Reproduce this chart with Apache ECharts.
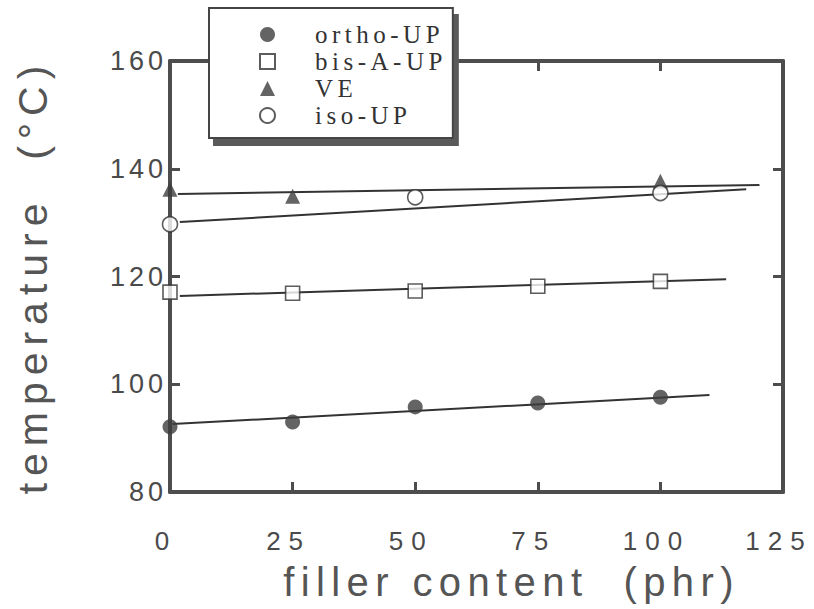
<!DOCTYPE html>
<html>
<head>
<meta charset="utf-8"/>
<style>
  body { margin: 0; background: #fff; }
  #main { width: 814px; height: 609px; }
  /* the scanned figure has wide letter spacing everywhere */
  #main text { letter-spacing: 0.16em; }
  #main text[style*="41px"] { letter-spacing: 0.17em; }
  #main text[style*="27px"] { letter-spacing: 4px; }
  #main text[style*="26px"] { letter-spacing: 8px; }
  #main text[style*="25px"] { letter-spacing: 4.5px; }
</style>
</head>
<body>
<div id="main"></div>
<script src="https://cdn.jsdelivr.net/npm/echarts@6/dist/echarts.min.js"></script>
<script type="text/javascript">
// filler content (phr)
var xTicks = [0, 25, 50, 75, 100, 125];
var yTicks = [80, 100, 120, 140, 160];

// measured points [phr, temperature]
var orthoUP = [[0, 92.1], [25, 93.0], [50, 95.8], [75, 96.5], [100, 97.6]];
var bisAUP  = [[0, 117.1], [25, 116.9], [50, 117.3], [75, 118.2], [100, 119.1]];
var VE      = [[0, 136.2], [25, 134.9], [100, 137.7]];
var isoUP   = [[0, 129.7], [50, 134.7], [100, 135.5]];

// fitted straight lines (start, end)
var orthoFit = [[0.5, 92.6], [110, 98.0]];
var bisFit   = [[2, 116.4], [113.4, 119.5]];
var veFit    = [[1.6, 135.3], [120.2, 137.0]];
var isoFit   = [[2, 130.1], [117.5, 136.2]];

var names = ['ortho-UP', 'bis-A-UP', 'VE', 'iso-UP'];

var frame = '#4d4d4d';
var ink = '#333';

var myChart = echarts.init(document.getElementById('main'), null, {renderer: 'svg'});

function frameAxis(pos) {
  return {
    type: 'value', position: pos,
    min: pos == 'top' ? xTicks[0] : yTicks[0],
    max: pos == 'top' ? xTicks[xTicks.length - 1] : yTicks[yTicks.length - 1],
    interval: pos == 'top' ? 25 : 20,
    axisLine: {show: true, onZero: false, lineStyle: {color: frame, width: 4}},
    axisTick: {show: true, inside: true, length: 10, lineStyle: {color: frame, width: 3}},
    axisLabel: {show: false},
    splitLine: {show: false}
  };
}

function fitLine(data) {
  return {
    type: 'line', data: data, symbol: 'none', silent: true, z: 1,
    lineStyle: {color: ink, width: 2}
  };
}

var options = {
  animation: false,
  backgroundColor: '#fff',
  grid: {left: 170, right: 31, top: 61, bottom: 117},
  legend: {
    data: names,
    orient: 'vertical',
    left: 209, top: 8,
    padding: [14, 42, 10, 50],
    itemWidth: 15, itemHeight: 15, itemGap: 2,
    backgroundColor: '#fff',
    borderColor: '#444', borderWidth: 2,
    shadowColor: '#5a5a5a', shadowBlur: 0, shadowOffsetX: 5, shadowOffsetY: 7,
    textStyle: {fontFamily: 'Liberation Serif', fontSize: 25, color: ink, padding: [0, 0, 0, 35]}
  },
  xAxis: [{
    type: 'value', position: 'bottom',
    min: xTicks[0], max: xTicks[xTicks.length - 1], interval: 25,
    axisLine: {show: true, onZero: false, lineStyle: {color: frame, width: 4}},
    axisTick: {show: true, inside: true, length: 10, lineStyle: {color: frame, width: 3}},
    axisLabel: {fontFamily: 'Liberation Sans', fontSize: 26, color: '#4a4a4a', margin: 36, padding: [0, 8, 0, 0]},
    splitLine: {show: false},
    name: 'filler content  (phr)',
    nameLocation: 'middle', nameGap: 70,
    nameTextStyle: {fontFamily: 'Liberation Sans', fontSize: 40, color: '#555', padding: [0, 0, 0, 70]}
  }, frameAxis('top')],
  yAxis: [{
    type: 'value', position: 'left',
    min: yTicks[0], max: yTicks[yTicks.length - 1], interval: 20,
    axisLine: {show: true, onZero: false, lineStyle: {color: frame, width: 4}},
    axisTick: {show: true, inside: true, length: 10, lineStyle: {color: frame, width: 3}},
    axisLabel: {fontFamily: 'Liberation Sans', fontSize: 27, color: '#4a4a4a', margin: 3},
    splitLine: {show: false},
    name: 'temperature  (°C)',
    nameLocation: 'middle', nameRotate: 90, nameGap: 117,
    nameTextStyle: {fontFamily: 'Liberation Sans', fontSize: 41, color: '#555'}
  }, frameAxis('right')],
  series: [
    fitLine(orthoFit), fitLine(bisFit), fitLine(veFit), fitLine(isoFit),
    {name: names[0], type: 'scatter', data: orthoUP, symbol: 'circle', symbolSize: 15, z: 3,
     itemStyle: {color: '#3d3d3d'}},
    {name: names[1], type: 'scatter', data: bisAUP, symbol: 'rect', symbolSize: 14, z: 3,
     itemStyle: {color: '#fff', borderColor: ink, borderWidth: 1.6}},
    {name: names[2], type: 'scatter', data: VE, symbol: 'triangle', symbolSize: 15, z: 3,
     itemStyle: {color: '#3d3d3d'}},
    {name: names[3], type: 'scatter', data: isoUP, symbol: 'circle', symbolSize: 15, z: 3,
     itemStyle: {color: '#fff', borderColor: ink, borderWidth: 1.6}}
  ]
};

myChart.setOption(options);
</script>
</body>
</html>
